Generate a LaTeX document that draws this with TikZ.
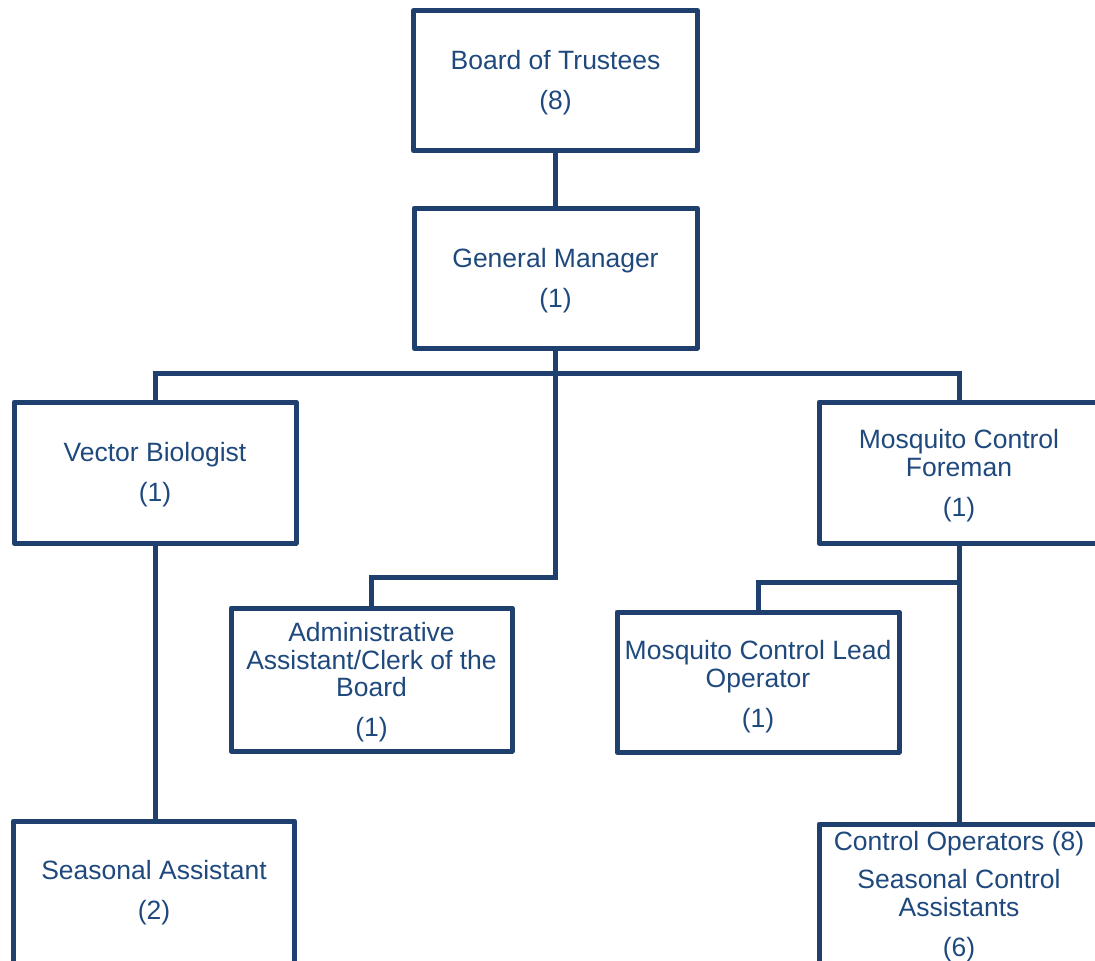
\documentclass[tikz,border=0pt]{standalone}
\usepackage{fontspec}
\setmainfont{Liberation Sans}
\definecolor{linec}{HTML}{1F3F6E}
\definecolor{textc}{HTML}{1F497D}
\begin{document}
\begin{tikzpicture}[x=1pt,y=-1pt,
  box/.style={draw=linec, line width=5pt, rectangle, inner sep=0pt, outer sep=0pt, line join=round},
  txt/.style={text=textc, align=center, inner sep=0pt, font=\fontsize{26.5}{27.5}\selectfont},
  conn/.style={draw=linec, line width=5pt, line join=miter}]
\useasboundingbox (0,0) rectangle (1095,961);
% boxes
\node[box, minimum width=284pt, minimum height=140pt] (bot) at (555.5,80.5) {};
\node[box, minimum width=283pt, minimum height=140pt] (gm) at (555.5,278) {};
\node[box, minimum width=282pt, minimum height=141pt] (vb) at (155,472.5) {};
\node[box, minimum width=280pt, minimum height=141pt] (mcf) at (959,472.5) {};
\node[box, minimum width=281pt, minimum height=143pt] (aa) at (371.5,679.5) {};
\node[box, minimum width=282pt, minimum height=140pt] (lo) at (758,682) {};
\node[box, minimum width=281pt, minimum height=189pt] (sa) at (154,915.5) {};
\node[box, minimum width=280pt, minimum height=186pt] (co) at (959,917) {};
% texts
\node[txt] (botT) at (555.5,83) {Board of Trustees\\[12.5pt](8)};
\node[txt] (gmT) at (555.5,280.5) {General Manager\\[12.5pt](1)};
\node[txt] (vbT) at (155,475) {Vector Biologist\\[12.5pt](1)};
\node[txt] (mcfT) at (959,475.5) {Mosquito Control\\Foreman\\[12.5pt](1)};
\node[txt] (aaT) at (371.5,682.5) {Administrative\\Assistant/Clerk of the\\Board\\[12.5pt](1)};
\node[txt] (loT) at (758,686.5) {Mosquito Control Lead\\Operator\\[12.5pt](1)};
\node[txt] (saT) at (154,893) {Seasonal Assistant\\[12.5pt](2)};
\node[txt] (coT) at (959,896.5) {Control Operators (8)\\[11pt]Seasonal Control\\Assistants\\[12.5pt](6)};
% connectors
\coordinate (bar) at (555.5,373);
\coordinate (aj) at (555.5,577);
\coordinate (fj) at (959,582);
\draw[conn] (bot.south) -- (gm.south |- bot.south) -- (gm.north);
\draw[conn] (gm.south) -- (aj) -| (aa.north);
\draw[conn] (vb.north) |- (bar) -| (mcf.north);
\draw[conn] (vb.south) -- (vb.south |- sa.north);
\draw[conn] (mcf.south) -- (co.north);
\draw[conn] (fj) -| (lo.north);
\end{tikzpicture}
\end{document}
